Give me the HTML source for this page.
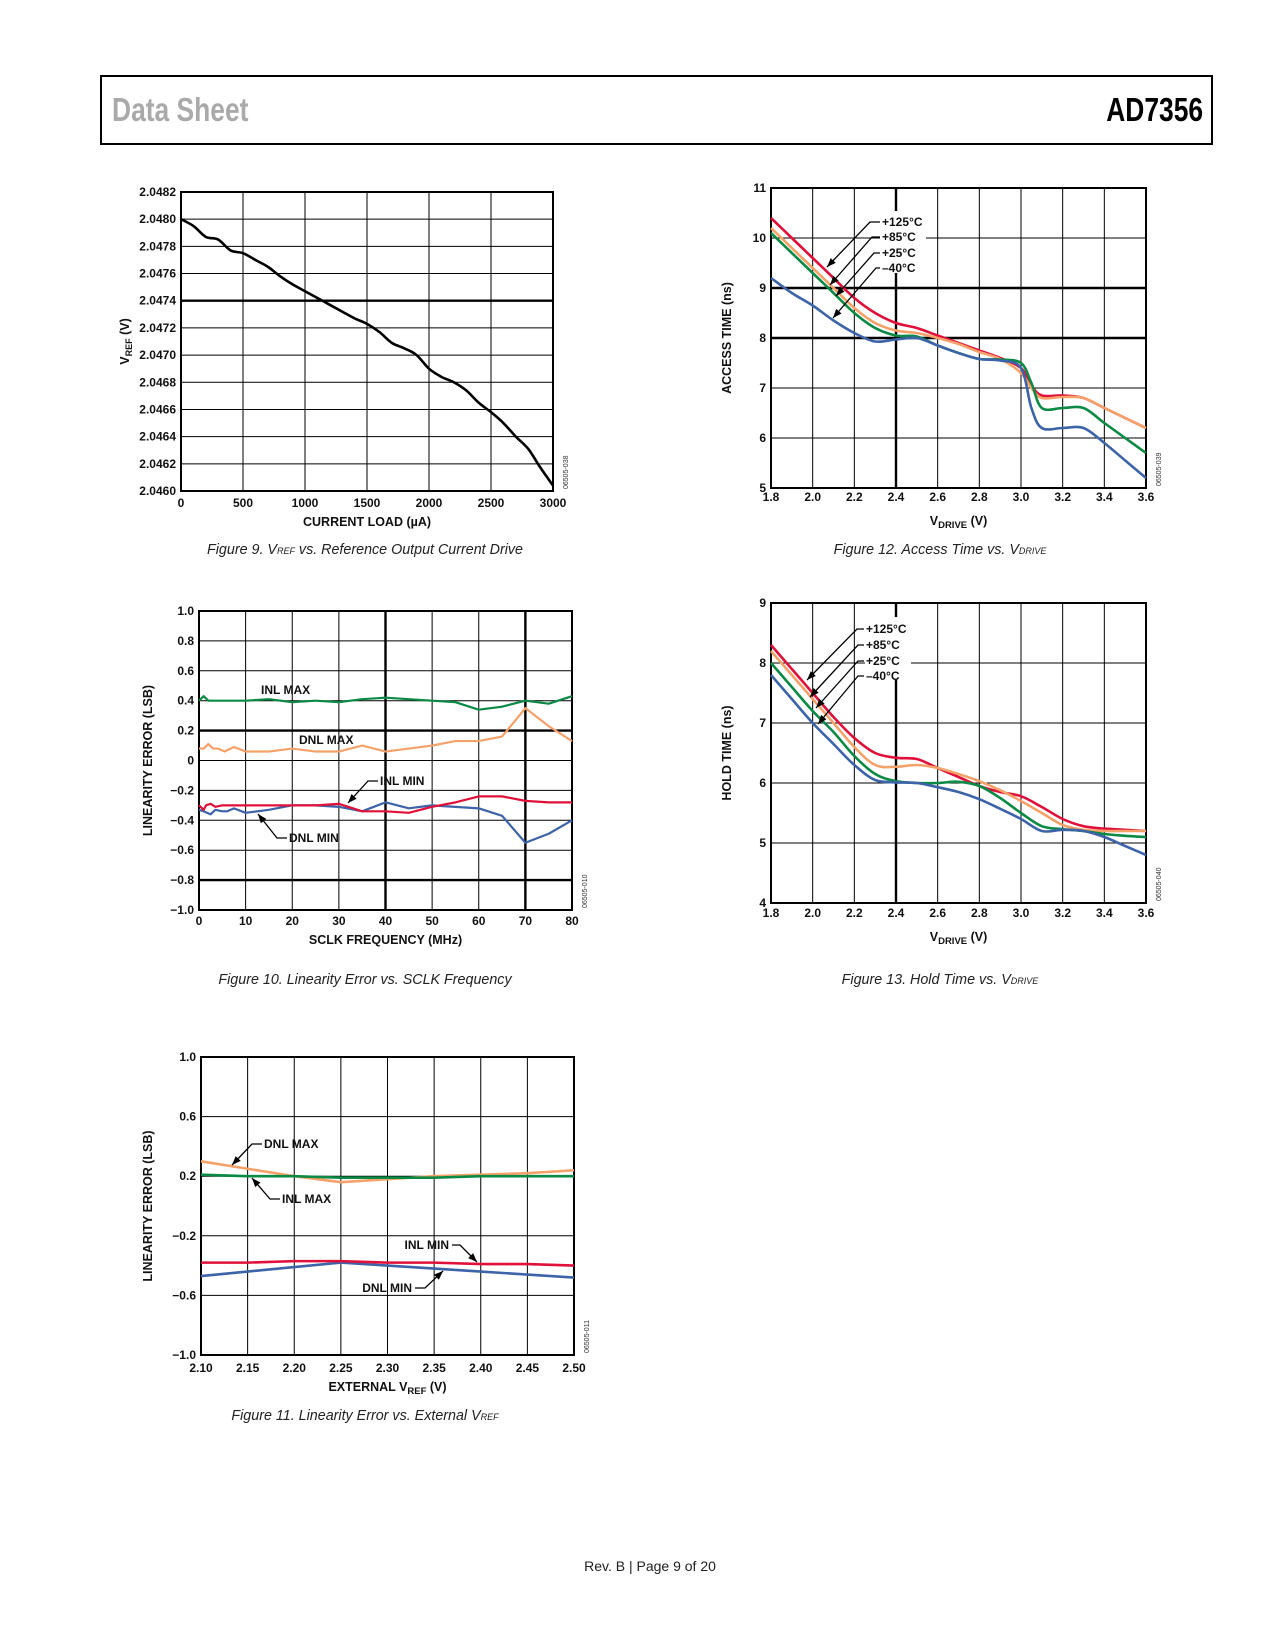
<!DOCTYPE html>
<html><head><meta charset="utf-8">
<style>
body{margin:0;background:#fff;}
#page{position:relative;width:1275px;height:1650px;background:#fff;font-family:"Liberation Sans",sans-serif;overflow:hidden;}
.hdr{position:absolute;left:100px;top:75px;width:1113px;height:70px;border:2px solid #000;box-sizing:border-box;}
.cap{position:absolute;font-style:italic;font-size:14.3px;color:#222;white-space:nowrap;transform:translateX(-50%);}
svg{position:absolute;left:0;top:0;}
svg text{font-family:"Liberation Sans",sans-serif;}
</style></head><body>
<div id="page">
<div class="hdr"></div>
<div style="position:absolute;left:112px;top:91px;font-size:33px;font-weight:bold;color:#aaa;transform:scaleX(0.8);transform-origin:left;">Data Sheet</div>
<div style="position:absolute;right:72px;top:91px;font-size:33px;font-weight:bold;color:#000;transform:scaleX(0.8);transform-origin:right;">AD7356</div>
<div class="cap" style="left:365px;top:542px">Figure 9. V<sub style="font-size:9px;vertical-align:baseline">REF</sub> vs. Reference Output Current Drive</div>
<div class="cap" style="left:940px;top:542px">Figure 12. Access Time vs. V<sub style="font-size:9px;vertical-align:baseline">DRIVE</sub></div>
<div class="cap" style="left:365px;top:972px">Figure 10. Linearity Error vs. SCLK Frequency</div>
<div class="cap" style="left:940px;top:972px">Figure 13. Hold Time vs. V<sub style="font-size:9px;vertical-align:baseline">DRIVE</sub></div>
<div class="cap" style="left:365px;top:1408px">Figure 11. Linearity Error vs. External V<sub style="font-size:9px;vertical-align:baseline">REF</sub></div>
<div style="position:absolute;left:650px;top:1558px;transform:translateX(-50%);font-size:14px;color:#222;">Rev. B | Page 9 of 20</div>
<svg id="svg" width="1275" height="1650"></svg>
</div>
<script>
// ---- Figure 9 data ----
const f9X=[0,100,200,300,400,500,600,700,800,900,1000,1100,1200,1300,1400,1500,1600,1700,1800,1900,2000,2100,2200,2300,2400,2500,2600,2700,2800,2900,3000];
const f9Y=[2.0480,2.04795,2.04787,2.04785,2.04777,2.04775,2.0477,2.04765,2.04758,2.04752,2.04747,2.04742,2.04737,2.04732,2.04727,2.04723,2.04717,2.04709,2.04705,2.047,2.0469,2.04684,2.0468,2.04674,2.04665,2.04658,2.0465,2.0464,2.04631,2.04617,2.04604];
const f9XTicks=["0","500","1000","1500","2000","2500","3000"];
const f9YTicks=["2.0460","2.0462","2.0464","2.0466","2.0468","2.0470","2.0472","2.0474","2.0476","2.0478","2.0480","2.0482"];
// ---- Figure 12 data ----
const f12X=[1.8,1.9,2.0,2.1,2.2,2.3,2.4,2.5,2.6,2.7,2.8,2.9,3.0,3.05,3.1,3.2,3.3,3.4,3.5,3.6];
const f12Red=[10.4,10.0,9.6,9.2,8.8,8.5,8.3,8.2,8.05,7.9,7.75,7.6,7.4,7.05,6.85,6.85,6.8,6.6,6.4,6.2];
const f12Orange=[10.2,9.8,9.4,9.0,8.6,8.3,8.15,8.1,8.0,7.88,7.72,7.58,7.3,7.0,6.8,6.82,6.8,6.6,6.4,6.2];
const f12Green=[10.1,9.7,9.3,8.9,8.5,8.2,8.05,8.03,7.85,7.7,7.58,7.57,7.5,7.1,6.6,6.6,6.6,6.3,6.0,5.7];
const f12Blue=[9.2,8.9,8.65,8.35,8.1,7.93,7.97,8.0,7.85,7.7,7.58,7.55,7.4,6.6,6.2,6.2,6.2,5.9,5.55,5.2];
const vTicks=["1.8","2.0","2.2","2.4","2.6","2.8","3.0","3.2","3.4","3.6"];
const f12YTicks=["5","6","7","8","9","10","11"];
// ---- Figure 13 data ----
const f13X=[1.8,1.9,2.0,2.1,2.2,2.3,2.4,2.5,2.6,2.7,2.8,2.9,3.0,3.1,3.2,3.3,3.4,3.5,3.6];
const f13Red=[8.3,7.9,7.5,7.1,6.75,6.5,6.42,6.4,6.25,6.1,5.95,5.85,5.78,5.6,5.4,5.28,5.24,5.22,5.2];
const f13Orange=[8.2,7.8,7.4,7.0,6.6,6.3,6.27,6.3,6.25,6.15,6.03,5.88,5.7,5.5,5.3,5.22,5.2,5.2,5.2];
const f13Green=[8.0,7.6,7.2,6.85,6.45,6.15,6.03,6.0,6.0,6.02,5.95,5.75,5.5,5.28,5.23,5.2,5.15,5.12,5.1];
const f13Blue=[7.8,7.4,7.0,6.65,6.3,6.05,6.01,6.0,5.93,5.85,5.73,5.57,5.4,5.2,5.22,5.2,5.1,4.95,4.8];
const f13YTicks=["4","5","6","7","8","9"];
// ---- Figure 10 data ----
const f10InlMaxX=[0,1,2,5,10,15,20,25,30,35,40,45,50,55,60,65,70,75,80];
const f10InlMax=[0.40,0.43,0.40,0.40,0.40,0.41,0.39,0.40,0.39,0.41,0.42,0.41,0.40,0.39,0.34,0.36,0.40,0.38,0.43];
const f10DnlMaxX=[0,1,2,3,4,5.5,7.5,10,15,20,25,30,35,40,45,50,55,60,65,70,75,80];
const f10DnlMax=[0.08,0.08,0.11,0.08,0.08,0.06,0.09,0.06,0.06,0.08,0.06,0.06,0.10,0.06,0.08,0.10,0.13,0.13,0.16,0.35,0.23,0.13];
const f10InlMinX=[0,1,1.5,2.5,3.5,5,10,15,20,25,30,35,40,45,50,55,60,65,70,75,80];
const f10InlMin=[-0.30,-0.33,-0.30,-0.29,-0.31,-0.30,-0.30,-0.30,-0.30,-0.30,-0.29,-0.34,-0.34,-0.35,-0.31,-0.28,-0.24,-0.24,-0.27,-0.28,-0.28];
const f10DnlMinX=[0,1,2.5,3.5,5,6,7.5,10,15,20,25,30,35,40,45,50,55,60,65,70,75,80];
const f10DnlMin=[-0.33,-0.34,-0.36,-0.33,-0.34,-0.34,-0.32,-0.35,-0.33,-0.30,-0.30,-0.31,-0.34,-0.28,-0.32,-0.30,-0.31,-0.32,-0.37,-0.55,-0.49,-0.40];
const f10XTicks=["0","10","20","30","40","50","60","70","80"];
const f10YTicks=["−1.0","−0.8","−0.6","−0.4","−0.2","0","0.2","0.4","0.6","0.8","1.0"];
// ---- Figure 11 data ----
const f11X=[2.10,2.15,2.20,2.25,2.30,2.35,2.40,2.45,2.50];
const f11DnlMax=[0.30,0.25,0.20,0.16,0.18,0.20,0.21,0.22,0.24];
const f11InlMax=[0.21,0.20,0.20,0.19,0.19,0.19,0.20,0.20,0.20];
const f11InlMin=[-0.38,-0.38,-0.37,-0.37,-0.38,-0.38,-0.39,-0.39,-0.40];
const f11DnlMin=[-0.47,-0.44,-0.41,-0.38,-0.40,-0.42,-0.44,-0.46,-0.48];
const f11XTicks=["2.10","2.15","2.20","2.25","2.30","2.35","2.40","2.45","2.50"];
const f11YTicks=["−1.0","−0.6","−0.2","0.2","0.6","1.0"];

const NS="http://www.w3.org/2000/svg";
const svg=document.getElementById('svg');
function mk(tag,attrs,parent){const e=document.createElementNS(NS,tag);for(const k in attrs)e.setAttribute(k,attrs[k]);(parent||svg).appendChild(e);return e;}
function txt(s,x,y,attrs,parent){const t=mk('text',Object.assign({x:x,y:y,'font-size':12,'font-weight':'bold',fill:'#111'},attrs||{}),parent);t.textContent=s;return t;}
const RED='#e0103a',ORANGE='#f5a26a',GREEN='#0b8a45',BLUE='#3d63a8';

function chart(c){
  const g=mk('g',{});
  
  
  const sx=v=>c.L+(v-c.x0)/(c.x1-c.x0)*(c.R-c.L);
  const sy=v=>c.B-(v-c.y0)/(c.y1-c.y0)*(c.B-c.T);
  for(let i=0;i<=c.nx;i++){const v=c.x0+(c.x1-c.x0)*i/c.nx;const X=sx(v);
    const l=mk('line',{x1:X,x2:X,y1:c.T,y2:c.B,stroke:'#000','stroke-width':(c.thickX||[]).includes(i)?2.4:1},g);
    
    }
  for(let i=0;i<=c.ny;i++){const v=c.y0+(c.y1-c.y0)*i/c.ny;const Y=sy(v);
    const l=mk('line',{x1:c.L,x2:c.R,y1:Y,y2:Y,stroke:'#000','stroke-width':(c.thickY||[]).includes(i)?2.4:1},g);
    
    }
  const fr=mk('rect',{x:c.L,y:c.T,width:c.R-c.L,height:c.B-c.T,fill:'none',stroke:'#000','stroke-width':2},g);
  
  
  c.xTicks.forEach((s,i)=>{const v=c.x0+(c.x1-c.x0)*i/(c.xTicks.length-1);
    const t=txt(s,sx(v),c.xLabY,{'text-anchor':'middle'},g);
    
    });
  c.yTicks.forEach((s,i)=>{const v=c.y0+(c.y1-c.y0)*i/(c.yTicks.length-1);
    const t=txt(s,c.L-5,sy(v)+4,{'text-anchor':'end'},g);
    
    });
  c.series.forEach(s=>{
    const pts=s.x.map((xv,i)=>[sx(xv),sy(s.y[i])]);
    let d='M'+pts[0][0]+','+pts[0][1];
    if(c.smooth){for(let i=0;i<pts.length-1;i++){const p0=pts[Math.max(0,i-1)],p1=pts[i],p2=pts[i+1],p3=pts[Math.min(pts.length-1,i+2)];
      d+=' C'+(p1[0]+(p2[0]-p0[0])/6)+','+(p1[1]+(p2[1]-p0[1])/6)+' '+(p2[0]-(p3[0]-p1[0])/6)+','+(p2[1]-(p3[1]-p1[1])/6)+' '+p2[0]+','+p2[1];}}
    else pts.slice(1).forEach(p=>d+=' L'+p[0]+','+p[1]);
    const p=mk('path',{d:d,fill:'none',stroke:s.color,'stroke-width':s.w||2.6,'stroke-linejoin':'round'},g);
    
    
  });
  const xt=mk('text',{x:(c.L+c.R)/2,y:c.xTitleY,'text-anchor':'middle','font-size':12.5,'font-weight':'bold',fill:'#111'},g);
  xt.innerHTML=c.xTitle;
  
  
  const yt=mk('text',{x:0,y:0,transform:'translate('+c.yTitleX+','+((c.T+c.B)/2)+') rotate(-90)','text-anchor':'middle','font-size':12.5,'font-weight':'bold',fill:'#111'},g);
  yt.innerHTML=c.yTitle;
  
  
  const id=mk('text',{x:0,y:0,transform:'translate('+(c.R+15)+','+(c.B-2)+') rotate(-90)','font-size':7,fill:'#333'},g);
  id.textContent=c.id;
  
  
  return g;
}
function leader(pts,g){const pl=mk('polyline',{points:pts.map(p=>p.join(',')).join(' '),fill:'none',stroke:'#000','stroke-width':1.3},g);
  
  
  const a=pts[pts.length-1],b=pts[pts.length-2];const ang=Math.atan2(a[1]-b[1],a[0]-b[0]);
  const L=9,W=3.5;const p1=[a[0]-L*Math.cos(ang)+W*Math.sin(ang),a[1]-L*Math.sin(ang)-W*Math.cos(ang)],p2=[a[0]-L*Math.cos(ang)-W*Math.sin(ang),a[1]-L*Math.sin(ang)+W*Math.cos(ang)];
  const h=mk('polygon',{points:[a,p1,p2].map(p=>p.join(',')).join(' '),fill:'#000'},g);
  
  }
function label(s,x,y,g,anchor){const t=txt(s,x,y,{'text-anchor':anchor||'start'},g);
  
  }

chart({name:'figure-9-chart',L:181,R:553,T:192,B:491,x0:0,x1:3000,y0:2.0460,y1:2.0482,nx:6,ny:11,thickY:[7],
  xTicks:f9XTicks,yTicks:f9YTicks,xLabY:507,xTitleY:526,yTitleX:129,smooth:true,id:'06505-038',
  xTitle:'CURRENT LOAD (µA)',yTitle:'V<tspan font-size="9" dy="3">REF</tspan><tspan dy="-3"> (V)</tspan>',
  series:[{name:'vref-line',x:f9X,y:f9Y,color:'#000',w:2.6}]});

const g12=chart({name:'figure-12-chart',L:771,R:1146,T:188,B:488,x0:1.8,x1:3.6,y0:5,y1:11,nx:9,ny:6,thickX:[3],thickY:[3,4],
  xTicks:vTicks,yTicks:f12YTicks,xLabY:501,xTitleY:525,yTitleX:731,smooth:true,id:'06505-039',
  xTitle:'V<tspan font-size="9.5" dy="3">DRIVE</tspan><tspan dy="-3"> (V)</tspan>',yTitle:'ACCESS TIME (ns)',
  series:[{name:'access-125c',x:f12X,y:f12Red,color:RED},{name:'access-85c',x:f12X,y:f12Orange,color:ORANGE},{name:'access-25c',x:f12X,y:f12Green,color:GREEN},{name:'access-m40c',x:f12X,y:f12Blue,color:BLUE}]});
mk('rect',{x:880,y:211,width:46,height:62,fill:'#fff'},g12);
leader([[880,222],[870,222],[827,267]],g12);
leader([[880,237],[872,237],[830,285]],g12);
leader([[880,253],[874,253],[836,296]],g12);
leader([[880,268],[876,268],[833,318]],g12);
label('+125°C',882,226,g12);label('+85°C',882,241,g12);label('+25°C',882,257,g12);label('–40°C',882,272,g12);

const g13=chart({name:'figure-13-chart',L:771,R:1146,T:603,B:903,x0:1.8,x1:3.6,y0:4,y1:9,nx:9,ny:5,thickX:[3],
  xTicks:vTicks,yTicks:f13YTicks,xLabY:917,xTitleY:941,yTitleX:731,smooth:true,id:'06505-040',
  xTitle:'V<tspan font-size="9.5" dy="3">DRIVE</tspan><tspan dy="-3"> (V)</tspan>',yTitle:'HOLD TIME (ns)',
  series:[{name:'hold-125c',x:f13X,y:f13Red,color:RED},{name:'hold-85c',x:f13X,y:f13Orange,color:ORANGE},{name:'hold-25c',x:f13X,y:f13Green,color:GREEN},{name:'hold-m40c',x:f13X,y:f13Blue,color:BLUE}]});
mk('rect',{x:865,y:617,width:46,height:62,fill:'#fff'},g13);
leader([[864,629],[857,629],[807,680]],g13);
leader([[864,645],[858,645],[810,697]],g13);
leader([[864,661],[858,661],[816,708]],g13);
leader([[864,676],[858,676],[818,724]],g13);
label('+125°C',866,633,g13);label('+85°C',866,649,g13);label('+25°C',866,665,g13);label('–40°C',866,680,g13);

const g10=chart({name:'figure-10-chart',L:199,R:572,T:611,B:910,x0:0,x1:80,y0:-1,y1:1,nx:8,ny:10,thickX:[4,7],thickY:[1,6],
  xTicks:f10XTicks,yTicks:f10YTicks,xLabY:925,xTitleY:944,yTitleX:152,smooth:false,id:'06505-010',
  xTitle:'SCLK FREQUENCY (MHz)',yTitle:'LINEARITY ERROR (LSB)',
  series:[{name:'inl-max',x:f10InlMaxX,y:f10InlMax,color:GREEN,w:2.2},{name:'dnl-max',x:f10DnlMaxX,y:f10DnlMax,color:ORANGE,w:2.2},{name:'dnl-min',x:f10DnlMinX,y:f10DnlMin,color:BLUE,w:2.2},{name:'inl-min',x:f10InlMinX,y:f10InlMin,color:RED,w:2.2}]});
label('INL MAX',261,694,g10);label('DNL MAX',299,744,g10);label('INL MIN',380,785,g10);label('DNL MIN',289,842,g10);
leader([[378,781],[368,781],[348,803]],g10);
leader([[287,838],[277,838],[258,814]],g10);

const g11=chart({name:'figure-11-chart',L:201,R:574,T:1057,B:1355,x0:2.10,x1:2.50,y0:-1,y1:1,nx:8,ny:5,
  xTicks:f11XTicks,yTicks:f11YTicks,xLabY:1372,xTitleY:1391,yTitleX:152,smooth:false,id:'06505-011',
  xTitle:'EXTERNAL V<tspan font-size="9.5" dy="3">REF</tspan><tspan dy="-3"> (V)</tspan>',yTitle:'LINEARITY ERROR (LSB)',
  series:[{name:'dnl-max',x:f11X,y:f11DnlMax,color:ORANGE},{name:'inl-max',x:f11X,y:f11InlMax,color:GREEN},{name:'dnl-min',x:f11X,y:f11DnlMin,color:BLUE},{name:'inl-min',x:f11X,y:f11InlMin,color:RED}]});
label('DNL MAX',264,1148,g11);label('INL MAX',282,1203,g11);label('INL MIN',449,1249,g11,'end');label('DNL MIN',412,1292,g11,'end');
leader([[262,1144],[252,1144],[232,1165]],g11);
leader([[280,1199],[270,1199],[252,1178]],g11);
leader([[452,1245],[460,1245],[477,1262]],g11);
leader([[415,1288],[425,1288],[443,1271]],g11);
</script>
</body></html>
